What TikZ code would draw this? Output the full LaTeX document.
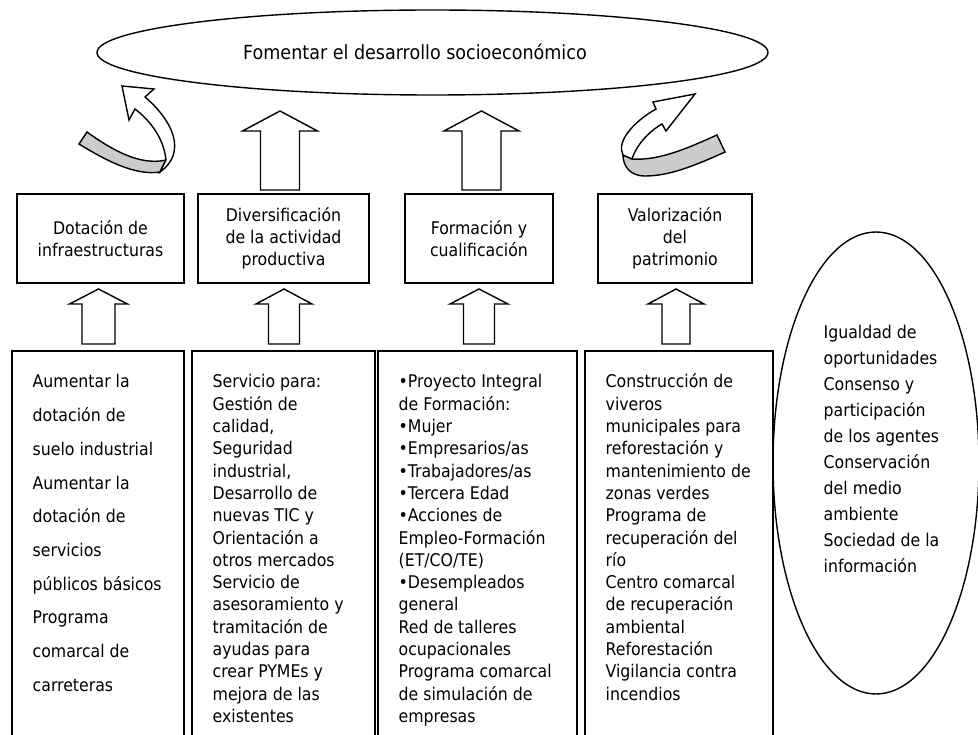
\documentclass[tikz,border=0pt]{standalone}
\usepackage{fontspec}
\setmainfont{DejaVu Sans Condensed}
\usetikzlibrary{shapes.geometric}
\newcommand\vlines[1]{\vtop{\let\\\cr\halign{##\hfil\cr#1\crcr}}}
\newcommand\blockup[6]{%
  \draw[blk] (#1,#2) -- (#1+#5,#3) -- (#1+#6,#3) -- (#1+#6,#4) -- (#1-#6,#4) -- (#1-#6,#3) -- (#1-#5,#3) -- cycle;}
\begin{document}
\begin{tikzpicture}[x=1pt,y=-1pt, line width=1.4pt, line join=miter,
  box/.style={draw, rectangle, inner sep=0pt, outer sep=0pt},
  lbl/.style={font=\fontsize{17.5}{22}\selectfont, align=center, inner sep=0pt},
  body/.style={font=\fontsize{17.5}{22.3}\selectfont, anchor=base west, inner sep=0pt},
  blk/.style={draw, fill=white, line width=1.4pt},
  band/.style={draw, fill=black!20, line width=1.4pt}]
\useasboundingbox (0,0) rectangle (978,735);
\clip (0,0) rectangle (978,735);
\fill[white] (0,0) rectangle (978,735);

% goal ellipse
\node[draw, ellipse, minimum width=671pt, minimum height=85pt, inner sep=0pt] (goal) at (432.5,52.5) {};
\node[font=\fontsize{19.5}{22}\selectfont, inner sep=0pt] (goaltxt) at (415,52) {Fomentar el desarrollo socioeconómico};

% top boxes
\node[box, minimum width=167pt, minimum height=89pt] (b1) at (100.5,238.5) {};
\node[box, minimum width=171pt, minimum height=89pt] (b2) at (283.5,238.5) {};
\node[box, minimum width=148pt, minimum height=89pt] (b3) at (479,238.5) {};
\node[box, minimum width=154pt, minimum height=89pt] (b4) at (675,238.5) {};
\node[lbl] (t1) at (b1.center) {Dotación de\\infraestructuras};
\node[lbl] (t2) at (b2.center) {Diversificación\\de la actividad\\productiva};
\node[lbl] (t3) at (b3.center) {Formación y\\cualificación};
\node[lbl] (t4) at (b4.center) {Valorización\\del\\patrimonio};

% bottom boxes (open at the bottom edge of the picture)
\node[box, anchor=north west, minimum width=172pt, minimum height=400pt] (c1) at (12,351) {};
\node[box, anchor=north west, minimum width=183pt, minimum height=400pt] (c2) at (192,351) {};
\node[box, anchor=north west, minimum width=199pt, minimum height=400pt] (c3) at (378,351) {};
\node[box, anchor=north west, minimum width=188pt, minimum height=400pt] (c4) at (585,351) {};

% right ellipse
\node[draw, ellipse, minimum width=206pt, minimum height=462pt, inner sep=0pt] (prin) at (876,463) {};

% block arrows: top
\blockup{280}{111}{131}{190}{37.5}{19.5}
\blockup{481.5}{111}{131}{190}{37.5}{19.5}
% block arrows: lower
\blockup{98.5}{289}{304}{344}{29}{16.5}
\blockup{284}{289}{304}{344}{28}{15.5}
\blockup{479}{289}{304}{344}{29}{15.5}
\blockup{676}{289}{304}{344}{28}{14}

% left curved arrow
\draw[band] (87,132) .. controls (112,150) and (140,166) .. (166,160) -- (160,172)
  .. controls (135,176) and (105,160) .. (79,144) -- cycle;
\draw[blk] (135,109) -- (129,120) -- (122,86) -- (154,89) -- (145,97)
  .. controls (172,120) and (188,152) .. (160,172) -- (166,160)
  .. controls (164,140) and (152,122) .. (135,109) -- cycle;

% right curved arrow
\draw[band] (632,159) .. controls (660,161) and (690,147) .. (717,135) -- (725,152)
  .. controls (692,167) and (668,176) .. (645,176) .. controls (630,176) and (623,166) .. (623,155) -- cycle;
\draw[blk] (656,109) .. controls (633,122) and (616,142) .. (623,155) -- (632,159)
  .. controls (636,146) and (648,132) .. (662,124) -- (666,131) -- (695,94) -- (653,102) -- cycle;

% texts in bottom boxes
\node[body, font=\fontsize{17.5}{33.7}\selectfont] (x1) at (32,388) {\vlines{Aumentar la\\dotación de\\suelo industrial\\Aumentar la\\dotación de\\servicios\\públicos básicos\\Programa\\comarcal de\\carreteras}};
\node[body] (x2) at (212,388) {\vlines{Servicio para:\\Gestión de\\calidad,\\Seguridad\\industrial,\\Desarrollo de\\nuevas TIC y\\Orientación a\\otros mercados\\Servicio de\\asesoramiento y\\tramitación de\\ayudas para\\crear PYMEs y\\mejora de las\\existentes}};
\node[body] (x3) at (398,388) {\vlines{•Proyecto Integral\\de Formación:\\•Mujer\\•Empresarios/as\\•Trabajadores/as\\•Tercera Edad\\•Acciones de\\Empleo-Formación\\(ET/CO/TE)\\•Desempleados\\general\\Red de talleres\\ocupacionales\\Programa comarcal\\de simulación de\\empresas}};
\node[body] (x4) at (605,388) {\vlines{Construcción de\\viveros\\municipales para\\reforestación y\\mantenimiento de\\zonas verdes\\Programa de\\recuperación del\\río\\Centro comarcal\\de recuperación\\ambiental\\Reforestación\\Vigilancia contra\\incendios}};
\node[body, font=\fontsize{17.5}{26}\selectfont] (x5) at (823,339) {\vlines{Igualdad de\\oportunidades\\Consenso y\\participación\\de los agentes\\Conservación\\del medio\\ambiente\\Sociedad de la\\información}};
\end{tikzpicture}
\end{document}
